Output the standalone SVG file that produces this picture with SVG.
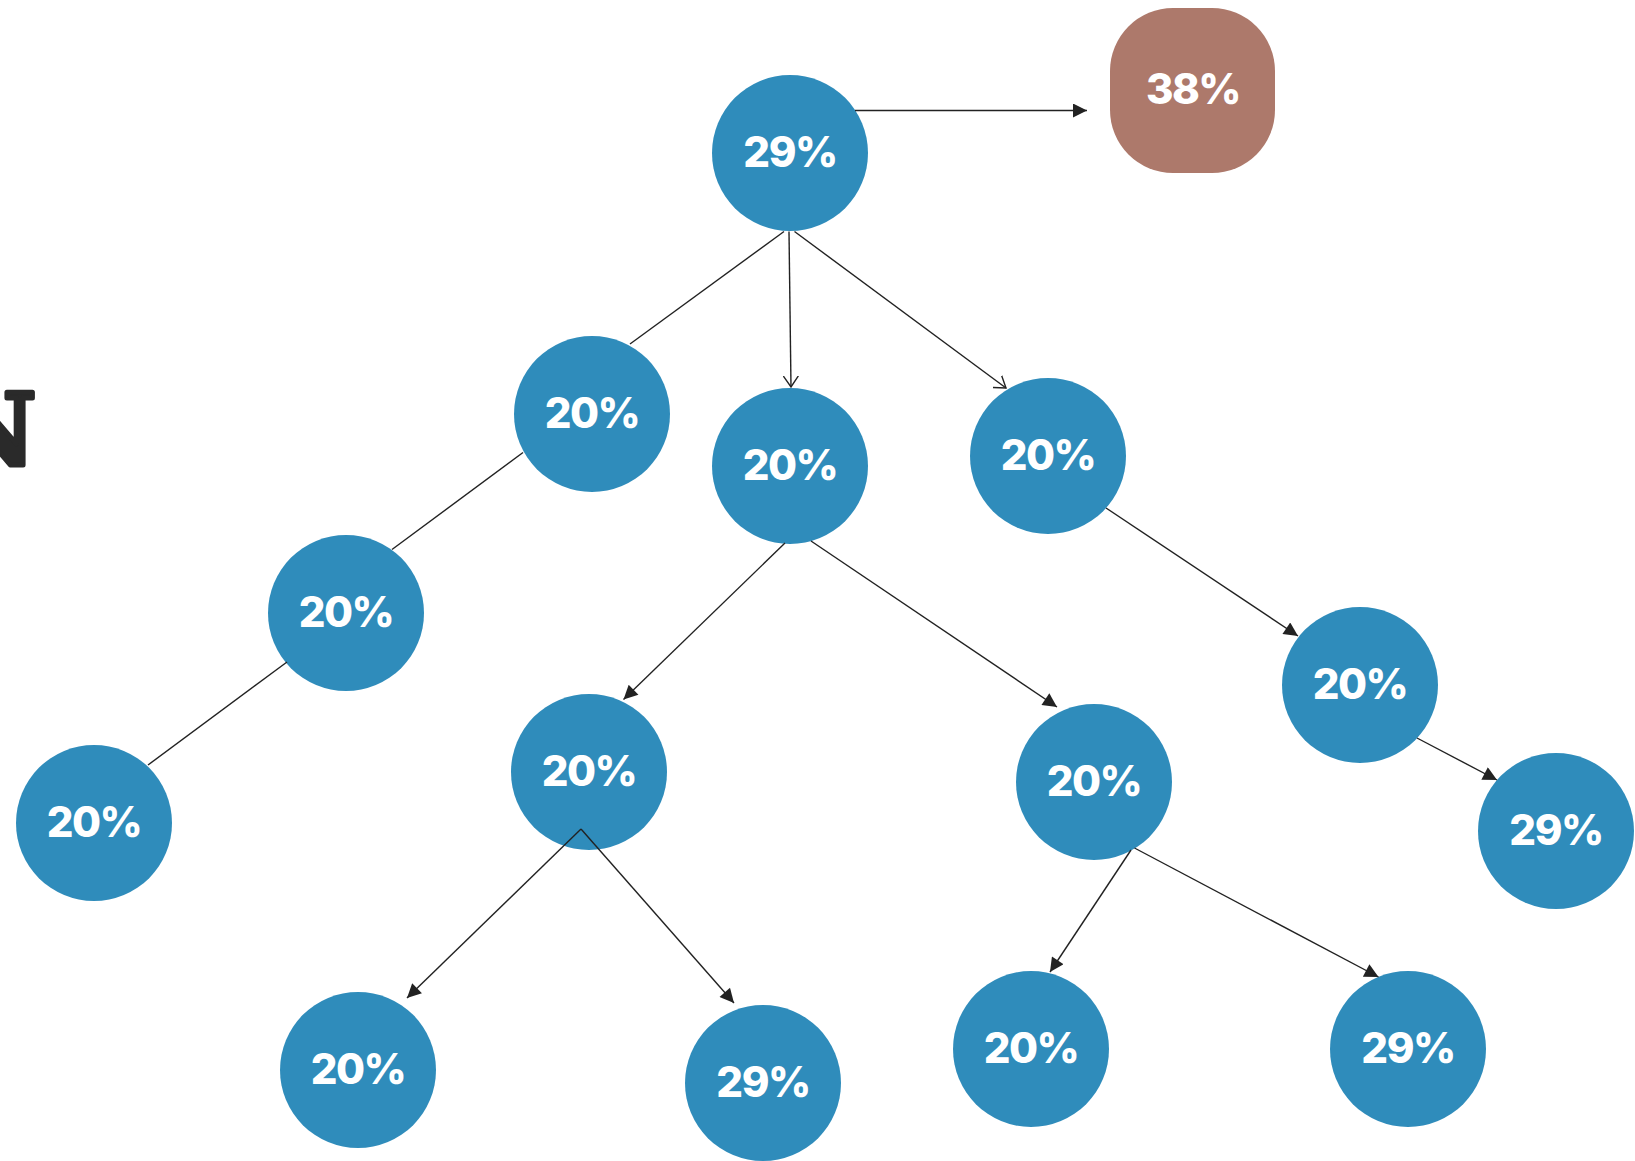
<svg xmlns="http://www.w3.org/2000/svg" width="1635" height="1161" viewBox="0 0 1635 1161">
<style>
.node{fill:#2f8cbb}
.box{fill:#ad796b}
.lbl{font-family:Inter,"Liberation Sans",sans-serif;font-weight:800;font-size:42px;letter-spacing:-1.5px;fill:#ffffff;text-anchor:middle}
.edge{stroke:#222;stroke-width:1.4;fill:none}
.glyph{font-family:"DejaVu Serif","Liberation Serif",serif;font-weight:700;font-size:100px;fill:#2a2a2a;stroke:#2a2a2a;stroke-width:5;stroke-linejoin:round}
</style>
<defs>
<marker id="tri" viewBox="0 0 10 10" refX="10" refY="5" markerWidth="19" markerHeight="14" markerUnits="userSpaceOnUse" orient="auto">
<path d="M0,0 L10,5 L0,10 z" fill="#222"/>
</marker>
<marker id="vee" viewBox="0 0 12 16" refX="11" refY="8" markerWidth="12" markerHeight="16" markerUnits="userSpaceOnUse" orient="auto">
<path d="M0,0.5 L11,8 L0,15.5" fill="none" stroke="#222" stroke-width="1.4"/>
</marker>
</defs>
<rect width="1635" height="1161" fill="#ffffff"/>
<text class="glyph" x="-55" y="465">N</text>
<g id="nodes">
<g id="n1"><circle class="node" cx="790" cy="153" r="78"/><text class="lbl" x="790" y="167">29%</text></g>
<g id="n2"><rect class="box" x="1110" y="8" width="165" height="165" rx="63" ry="63"/><text class="lbl" x="1193" y="104">38%</text></g>
<g id="n3"><circle class="node" cx="592" cy="414" r="78"/><text class="lbl" x="592" y="428">20%</text></g>
<g id="n4"><circle class="node" cx="790" cy="466" r="78"/><text class="lbl" x="790" y="480">20%</text></g>
<g id="n5"><circle class="node" cx="1048" cy="456" r="78"/><text class="lbl" x="1048" y="470">20%</text></g>
<g id="n6"><circle class="node" cx="346" cy="613" r="78"/><text class="lbl" x="346" y="627">20%</text></g>
<g id="n7"><circle class="node" cx="94" cy="823" r="78"/><text class="lbl" x="94" y="837">20%</text></g>
<g id="n8"><circle class="node" cx="589" cy="772" r="78"/><text class="lbl" x="589" y="786">20%</text></g>
<g id="n9"><circle class="node" cx="1094" cy="782" r="78"/><text class="lbl" x="1094" y="796">20%</text></g>
<g id="n10"><circle class="node" cx="1360" cy="685" r="78"/><text class="lbl" x="1360" y="699">20%</text></g>
<g id="n11"><circle class="node" cx="1556" cy="831" r="78"/><text class="lbl" x="1556" y="845">29%</text></g>
<g id="n12"><circle class="node" cx="358" cy="1070" r="78"/><text class="lbl" x="358" y="1084">20%</text></g>
<g id="n13"><circle class="node" cx="763" cy="1083" r="78"/><text class="lbl" x="763" y="1097">29%</text></g>
<g id="n14"><circle class="node" cx="1031" cy="1049" r="78"/><text class="lbl" x="1031" y="1063">20%</text></g>
<g id="n15"><circle class="node" cx="1408" cy="1049" r="78"/><text class="lbl" x="1408" y="1063">29%</text></g>
</g>
<g id="connectors">
<line class="edge" x1="855" y1="110.5" x2="1087" y2="110.5" marker-end="url(#tri)"/>
<line class="edge" x1="784" y1="231.5" x2="630" y2="344"/>
<line class="edge" x1="789" y1="231.5" x2="791" y2="387" marker-end="url(#vee)"/>
<line class="edge" x1="794.5" y1="231.5" x2="1006" y2="388" marker-end="url(#vee)"/>
<line class="edge" x1="523" y1="452.5" x2="392" y2="549.5"/>
<line class="edge" x1="287" y1="662" x2="148" y2="765"/>
<line class="edge" x1="785" y1="543" x2="623.5" y2="699.5" marker-end="url(#tri)"/>
<line class="edge" x1="811" y1="541" x2="1057" y2="707" marker-end="url(#tri)"/>
<line class="edge" x1="1106" y1="508" x2="1298" y2="636" marker-end="url(#tri)"/>
<line class="edge" x1="1417" y1="738" x2="1497" y2="780" marker-end="url(#tri)"/>
<line class="edge" x1="581" y1="829" x2="407" y2="998" marker-end="url(#tri)"/>
<line class="edge" x1="581" y1="829" x2="734" y2="1003" marker-end="url(#tri)"/>
<line class="edge" x1="1131" y1="850" x2="1050" y2="972" marker-end="url(#tri)"/>
<line class="edge" x1="1134.5" y1="848" x2="1378.5" y2="977" marker-end="url(#tri)"/>
</g>
</svg>
